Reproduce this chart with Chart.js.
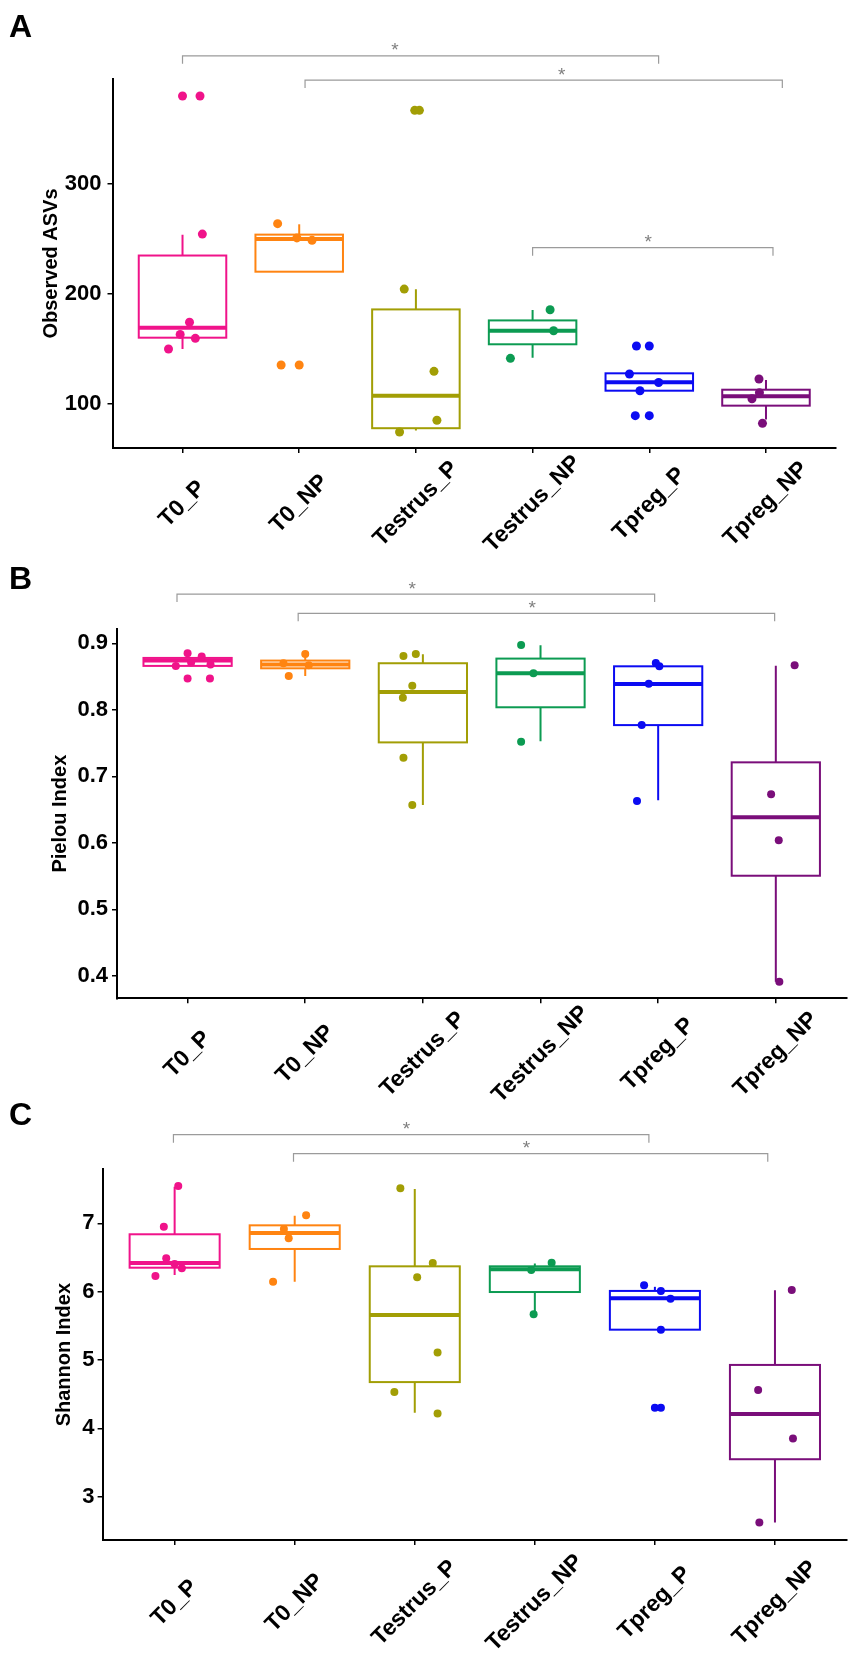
<!DOCTYPE html>
<html>
<head>
<meta charset="utf-8">
<title>Alpha diversity</title>
<script src="https://cdn.jsdelivr.net/npm/chart.js@4.4.0/dist/chart.umd.min.js"></script>
<style>
    html, body { margin: 0; padding: 0; background: #fff; }
    #wrap { position: relative; width: 851px; height: 1657px; overflow: hidden; }
    #wrap canvas { position: absolute; left: 0; }
</style>
</head>
<body>
<div id="wrap">
    <canvas id="chartA" width="851" height="570" style="top:0px"></canvas>
    <canvas id="chartB" width="851" height="560" style="top:555px"></canvas>
    <canvas id="chartC" width="851" height="562" style="top:1095px"></canvas>
</div>
<script>
// Kategori sampel
const groups = ['T0_P', 'T0_NP', 'Testrus_P', 'Testrus_NP', 'Tpreg_P', 'Tpreg_NP'];
const groupColors = ['#F0138A', '#FF8411', '#A29E05', '#0C9B52', '#0B0BF2', '#7A0E7A'];

// Panel A - Observed ASVs
const asvTicks = [100, 200, 300];
const asvTickLabels = ['100', '200', '300'];
const asvLow = [150, 220.3, 76, 142, 112.1, 86];
const asvQ1 = [160.3, 220.3, 78, 154.3, 112.1, 98.5];
const asvMedian = [169.4, 250, 107.5, 166.6, 119.7, 107];
const asvQ3 = [235, 254, 186, 176, 127.9, 113];
const asvHigh = [254, 263.4, 204.3, 185.5, 127.9, 121.8];
const asvPoints = [
    [380, 380, 254.5, 174.3, 163.3, 159.7, 150],
    [264, 251, 248.8, 135.5, 135.5],
    [367, 367, 204.5, 129.7, 85.2, 74.5],
    [185.7, 166.6, 141.5],
    [152.7, 152.7, 127.3, 119.6, 112.1, 89.4, 89.4],
    [122.7, 110.3, 104.8, 82.4]
];
const asvJitter = [
    [0, 0.15, 0.17, 0.06, -0.02, 0.11, -0.12],
    [-0.185, -0.02, 0.11, -0.155, 0],
    [-0.01, 0.03, -0.1, 0.155, 0.18, -0.14],
    [0.15, 0.18, -0.19],
    [-0.11, 0, -0.17, 0.08, -0.08, -0.12, 0],
    [-0.06, -0.056, -0.12, -0.03]
];
// [dari, ke, tinggi, posisi bintang]
const asvSig = [[0, 4.08, 416.6, 1.82], [1.05, 5.14, 394.5, 3.25], [3.0, 5.06, 242.1, 3.99]];

// Panel B - Pielou Index
const pielouTicks = [0.4, 0.5, 0.6, 0.7, 0.8, 0.9];
const pielouTickLabels = ['0.4', '0.5', '0.6', '0.7', '0.8', '0.9'];
const pielouLow = [0.866, 0.851, 0.657, 0.7526, 0.664, 0.391];
const pielouQ1 = [0.866, 0.8624, 0.751, 0.8038, 0.777, 0.5505];
const pielouMedian = [0.874, 0.868, 0.8268, 0.855, 0.8388, 0.6384];
const pielouQ3 = [0.878, 0.874, 0.87, 0.877, 0.8654, 0.721];
const pielouHigh = [0.878, 0.884, 0.8835, 0.897, 0.8654, 0.8663];
const pielouPoints = [
    [0.885, 0.88, 0.866, 0.871, 0.868, 0.847, 0.847],
    [0.884, 0.851, 0.87, 0.867],
    [0.881, 0.884, 0.836, 0.818, 0.728, 0.657],
    [0.8975, 0.855, 0.752],
    [0.8704, 0.8654, 0.839, 0.777, 0.663],
    [0.867, 0.673, 0.604, 0.391]
];
const pielouJitter = [
    [0, 0.12, -0.1, 0.03, 0.195, 0, 0.19],
    [0, -0.14, -0.185, 0.03],
    [-0.165, -0.06, -0.09, -0.17, -0.165, -0.09],
    [-0.165, -0.06, -0.165],
    [-0.02, 0.01, -0.08, -0.14, -0.18],
    [0.16, -0.04, 0.025, 0.03]
];
const pielouSig = [[-0.09, 3.97, 0.974, 1.91], [0.94, 4.99, 0.945, 2.93]];

// Panel C - Shannon Index
const shannonTicks = [3, 4, 5, 6, 7];
const shannonTickLabels = ['3', '4', '5', '6', '7'];
const shannonLow = [6.243, 6.145, 4.227, 5.668, 5.443, 2.62];
const shannonQ1 = [6.35, 6.624, 4.676, 5.994, 5.443, 3.547];
const shannonMedian = [6.42, 6.858, 5.657, 6.327, 5.902, 4.21];
const shannonQ3 = [6.839, 6.97, 6.37, 6.37, 6.01, 4.927];
const shannonHigh = [7.536, 7.11, 7.502, 6.41, 6.07, 6.02];
const shannonPoints = [
    [7.546, 6.95, 6.488, 6.404, 6.341, 6.229],
    [7.117, 6.917, 6.78, 6.145],
    [7.512, 6.209, 6.42, 5.11, 4.53, 4.218],
    [6.423, 6.316, 5.668],
    [6.092, 6.01, 5.896, 5.443, 4.3, 4.3],
    [6.025, 4.56, 3.85, 2.62]
];
const shannonJitter = [
    [0.03, -0.09, -0.07, 0, 0.06, -0.16],
    [0.095, -0.09, -0.05, -0.18],
    [-0.12, 0.02, 0.15, 0.19, -0.17, 0.19],
    [0.14, -0.03, -0.01],
    [-0.09, 0.05, 0.13, 0.05, 0, 0.05],
    [0.14, -0.14, 0.15, -0.13]
];
const shannonSig = [[-0.01, 3.95, 8.297, 1.93], [0.99, 4.94, 8.019, 2.93]];

const FONT = '"Liberation Sans", Arial, sans-serif';

// Plugin untuk kotak, braket signifikansi, label sumbu x dan huruf panel
function panelPlugin(cfg) {
    return {
        id: 'panel' + cfg.letter,
        beforeDatasetsDraw(chart) {
            const {ctx, scales: {x, y}} = chart;
            const half = 0.375;
            ctx.save();
            groups.forEach((g, i) => {
                const xl = x.getPixelForValue(i - half);
                const xr = x.getPixelForValue(i + half);
                const xc = x.getPixelForValue(i);
                const pLow = y.getPixelForValue(cfg.low[i]);
                const pQ1 = y.getPixelForValue(cfg.q1[i]);
                const pMed = y.getPixelForValue(cfg.median[i]);
                const pQ3 = y.getPixelForValue(cfg.q3[i]);
                const pHigh = y.getPixelForValue(cfg.high[i]);
                ctx.strokeStyle = groupColors[i];
                ctx.lineWidth = 2;
                ctx.beginPath();
                ctx.moveTo(xc, pHigh);
                ctx.lineTo(xc, pQ3);
                ctx.moveTo(xc, pQ1);
                ctx.lineTo(xc, pLow);
                ctx.stroke();
                ctx.fillStyle = '#fff';
                ctx.fillRect(xl, pQ3, xr - xl, pQ1 - pQ3);
                ctx.strokeRect(xl, pQ3, xr - xl, pQ1 - pQ3);
                ctx.lineWidth = 4;
                ctx.beginPath();
                ctx.moveTo(xl, pMed);
                ctx.lineTo(xr, pMed);
                ctx.stroke();
            });
            ctx.restore();
        },
        afterDraw(chart) {
            const {ctx, chartArea, scales: {x, y}} = chart;
            ctx.save();
            // braket
            cfg.sig.forEach(([from, to, level, starAt]) => {
                const x1 = x.getPixelForValue(from);
                const x2 = x.getPixelForValue(to);
                const yy = y.getPixelForValue(level);
                ctx.strokeStyle = '#9b9b9b';
                ctx.lineWidth = 1.2;
                ctx.beginPath();
                ctx.moveTo(x1, yy + 8);
                ctx.lineTo(x1, yy);
                ctx.lineTo(x2, yy);
                ctx.lineTo(x2, yy + 8);
                ctx.stroke();
                ctx.fillStyle = '#7f7f7f';
                ctx.font = '19px ' + FONT;
                ctx.textAlign = 'center';
                ctx.textBaseline = 'alphabetic';
                ctx.fillText('*', x.getPixelForValue(starAt), yy + 0.5);
            });
            // label sumbu x diputar 45 derajat
            ctx.fillStyle = '#000';
            ctx.font = 'bold 23px ' + FONT;
            ctx.textAlign = 'center';
            ctx.textBaseline = 'middle';
            groups.forEach((g, i) => {
                ctx.save();
                ctx.translate(x.getPixelForValue(i), chartArea.bottom + cfg.labelDrop);
                ctx.rotate(-Math.PI / 4);
                ctx.fillText(g, 0, 0);
                ctx.restore();
            });
            // huruf panel
            ctx.font = 'bold 32px ' + FONT;
            ctx.textAlign = 'left';
            ctx.textBaseline = 'alphabetic';
            ctx.fillText(cfg.letter, 9, cfg.letterBase);
            ctx.restore();
        }
    };
}

function initPanel(cfg) {
    const el = document.getElementById(cfg.id);
    const axisGrid = {
        display: true,
        drawOnChartArea: false,
        drawTicks: true,
        tickLength: 5,
        color: '#000',
        lineWidth: 1.5
    };
    const axisBorder = { display: true, color: '#000', width: 2 };

    return new Chart(el, {
        type: 'scatter',
        data: {
            datasets: groups.map((g, i) => ({
                label: g,
                data: cfg.points[i].map((v, k) => ({ x: i + cfg.jitter[i][k], y: v })),
                backgroundColor: groupColors[i],
                borderWidth: 0,
                pointRadius: cfg.radius,
                pointHoverRadius: cfg.radius
            }))
        },
        options: {
            responsive: false,
            animation: false,
            layout: {
                padding: { top: cfg.area.top, right: 851 - cfg.area.right, bottom: 0, left: 0 }
            },
            plugins: {
                legend: { display: false },
                tooltip: { enabled: false }
            },
            scales: {
                x: {
                    type: 'linear',
                    min: -0.6,
                    max: 5.6,
                    afterBuildTicks: s => { s.ticks = groups.map((g, i) => ({ value: i })); },
                    afterFit: s => { s.height = cfg.height - cfg.area.bottom; },
                    ticks: { display: false },
                    grid: axisGrid,
                    border: axisBorder
                },
                y: {
                    type: 'linear',
                    min: cfg.yMin,
                    max: cfg.yMax,
                    afterBuildTicks: s => { s.ticks = cfg.ticks.map(v => ({ value: v })); },
                    afterFit: s => { s.width = cfg.area.left; },
                    ticks: {
                        color: '#000',
                        padding: cfg.tickPad,
                        font: { family: FONT, size: 22, weight: 'bold' },
                        callback: (value, index) => cfg.tickLabels[index]
                    },
                    grid: axisGrid,
                    border: axisBorder,
                    title: {
                        display: true,
                        text: cfg.title,
                        color: '#000',
                        font: { family: FONT, size: 20, weight: 'bold' },
                        padding: { top: cfg.titlePad, bottom: 0 }
                    }
                }
            }
        },
        plugins: [panelPlugin(cfg)]
    });
}

initPanel({
    id: 'chartA', letter: 'A', letterBase: 37, height: 570,
    area: { left: 112.5, right: 836, top: 79, bottom: 448 },
    yMin: 60, yMax: 395.5, ticks: asvTicks, tickLabels: asvTickLabels,
    title: 'Observed ASVs', titlePad: 39, tickPad: 6, labelDrop: 56, radius: 4.5,
    low: asvLow, q1: asvQ1, median: asvMedian, q3: asvQ3, high: asvHigh,
    points: asvPoints, jitter: asvJitter, sig: asvSig
});

initPanel({
    id: 'chartB', letter: 'B', letterBase: 33.5, height: 560,
    area: { left: 117, right: 846.4, top: 74, bottom: 443.3 },
    yMin: 0.3662, yMax: 0.9215, ticks: pielouTicks, tickLabels: pielouTickLabels,
    title: 'Pielou Index', titlePad: 48.5, tickPad: 4, labelDrop: 56, radius: 4,
    low: pielouLow, q1: pielouQ1, median: pielouMedian, q3: pielouQ3, high: pielouHigh,
    points: pielouPoints, jitter: pielouJitter, sig: pielouSig
});

initPanel({
    id: 'chartC', letter: 'C', letterBase: 30, height: 562,
    area: { left: 102.6, right: 850.6, top: 74.3, bottom: 445 },
    yMin: 2.365, yMax: 7.79, ticks: shannonTicks, tickLabels: shannonTickLabels,
    title: 'Shannon Index', titlePad: 52.5, tickPad: 3, labelDrop: 63, radius: 4,
    low: shannonLow, q1: shannonQ1, median: shannonMedian, q3: shannonQ3, high: shannonHigh,
    points: shannonPoints, jitter: shannonJitter, sig: shannonSig
});
</script>
</body>
</html>
